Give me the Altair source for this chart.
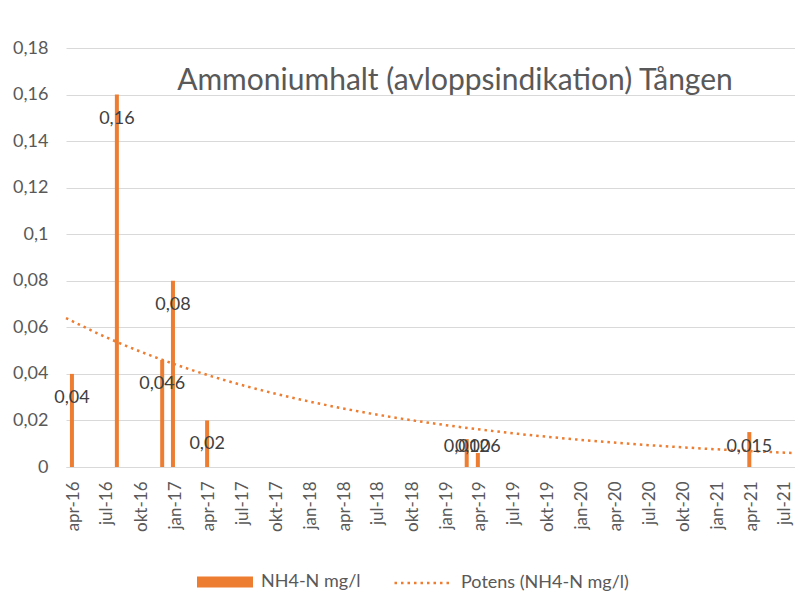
import altair as alt
import pandas as pd

# ---- data ----
dates = ["2016-03-29", "2016-07-28", "2016-11-27", "2016-12-26",
         "2017-03-28", "2019-02-25", "2019-03-27", "2021-03-27"]
values = [0.04, 0.16, 0.046, 0.08, 0.02, 0.012, 0.006, 0.015]

tick_dates = ["2016-04-01", "2016-07-01", "2016-10-01",
              "2017-01-01", "2017-04-01", "2017-07-01", "2017-10-01",
              "2018-01-01", "2018-04-01", "2018-07-01", "2018-10-01",
              "2019-01-01", "2019-04-01", "2019-07-01", "2019-10-01",
              "2020-01-01", "2020-04-01", "2020-07-01", "2020-10-01",
              "2021-01-01", "2021-04-01", "2021-07-01"]
months_sv = ["jan", "feb", "mar", "apr", "maj", "jun",
             "jul", "aug", "sep", "okt", "nov", "dec"]
x_domain = ["2016-03-13", "2021-07-28"]
y_ticks = [0, 0.02, 0.04, 0.06, 0.08, 0.1, 0.12, 0.14, 0.16, 0.18]

title_text = "Ammoniumhalt (avloppsindikation) Tången"
series_bar = "NH4-N mg/l"
series_trend = "Potens (NH4-N mg/l)"

ORANGE = "#ED7D31"
GREY = "#595959"
FONT = "Lato"


def to_dt(s):
    y, m, d = (int(p) for p in s.split("-"))
    return alt.DateTime(year=y, month=m, date=d, utc=True)


def to_ms(s):
    return int(pd.Timestamp(s, tz="UTC").timestamp() * 1000)


df = pd.DataFrame({"date": dates, "value": values})

month_arr = "[" + ",".join(f"'{m}'" for m in months_sv) + "]"
x_label_expr = f"{month_arr}[utcmonth(datum.value)] + '-' + utcFormat(datum.value, '%y')"
num_expr = "replace(format(datum.value, '~g'), '.', ',')"

x_scale = alt.Scale(type="utc", domain=[to_dt(x_domain[0]), to_dt(x_domain[1])],
                    padding=0, nice=False)
x_axis = alt.Axis(
    values=[to_dt(t) for t in tick_dates],
    labelExpr=x_label_expr,
    labelAngle=270,
    labelFont=FONT, labelFontSize=17, labelColor=GREY,
    labelPadding=14, labelOverlap=False, labelFlush=False,
    ticks=False, grid=False,
    domain=True, domainColor="#D9D9D9", domainWidth=1,
    title=None,
)
y_scale = alt.Scale(domain=[0, 0.18], nice=False, padding=0)
y_axis = alt.Axis(
    values=y_ticks,
    labelExpr=num_expr,
    labelFont=FONT, labelFontSize=18, labelColor=GREY,
    labelPadding=18,
    ticks=False, domain=False,
    grid=True, gridColor="#D9D9D9", gridWidth=1,
    title=None,
)


def X():
    return alt.X("date:T", scale=x_scale, axis=x_axis)


def Y(field="value:Q"):
    return alt.Y(field, scale=y_scale, axis=y_axis)


LEG_Y = 506

base = alt.Chart(df)

bars = base.transform_calculate(s=f"'{series_bar}'").mark_bar(size=4).encode(
    x=X(),
    y=Y(),
    fill=alt.Fill(
        "s:N",
        scale=alt.Scale(domain=[series_bar], range=[ORANGE]),
        legend=alt.Legend(
            title=None, orient="none", legendX=131, legendY=LEG_Y,
            symbolType="M-1,-0.2L1,-0.2L1,0.2L-1,0.2Z", symbolSize=3136,
            symbolStrokeWidth=0, symbolOpacity=1,
            labelFont=FONT, labelFontSize=18, labelColor=GREY, labelOffset=8,
            labelLimit=300, padding=0,
        ),
    ),
)

trend = (
    base.transform_regression(
        "date", "value", method="pow",
        extent=[to_ms(x_domain[0]), to_ms(x_domain[1])],
    )
    .transform_calculate(t=f"'{series_trend}'")
    .mark_line(strokeWidth=2.5, strokeDash=[2.5, 4])
    .encode(
        x=X(),
        y=Y(),
        stroke=alt.Stroke(
            "t:N",
            scale=alt.Scale(domain=[series_trend], range=[ORANGE]),
            legend=alt.Legend(
                title=None, orient="none", legendX=327, legendY=LEG_Y,
                symbolType="stroke", symbolSize=3025,
                symbolStrokeWidth=2.5, symbolDash=[2.5, 4],
                labelFont=FONT, labelFontSize=18, labelColor=GREY, labelOffset=10,
                labelLimit=300, padding=0,
            ),
        ),
    )
)

labels = (
    base.transform_calculate(
        ly="max(datum.value - 0.0103, 0.0086)",
        lab=num_expr,
    )
    .mark_text(font=FONT, fontSize=18, color="#404040", baseline="middle", align="center")
    .encode(x=X(), y=Y("ly:Q"), text="lab:N")
)

title_layer = (
    alt.Chart(pd.DataFrame({"t": [title_text]}))
    .mark_text(font=FONT, fontSize=30, color=GREY, align="center", baseline="alphabetic")
    .encode(text="t:N", x=alt.value(389), y=alt.value(42))
)

chart = (
    alt.layer(bars, trend, labels, title_layer)
    .properties(
        width=729, height=419,
        padding={"left": 58, "top": 40, "right": 0, "bottom": 125},
        autosize=alt.AutoSizeParams(type="none"),
        background="white",
    )
    .configure_view(stroke="transparent")
)

chart.save("out.html", embed_options={"renderer": "svg", "actions": False})
